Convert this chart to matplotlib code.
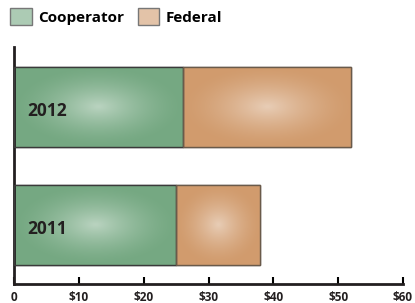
import numpy as np
import matplotlib.pyplot as plt
from matplotlib.patches import Rectangle

years = ['2011', '2012']
cooperator = [25, 26]
federal = [13, 26]
xticks = [0, 10, 20, 30, 40, 50, 60]
xticklabels = ['0', '$10', '$20', '$30', '$40', '$50', '$60']

green = np.array([0.46, 0.66, 0.51])
tan = np.array([0.82, 0.61, 0.43])

plt.rcParams['font.family'] = ['Open Sans', 'DejaVu Sans']

fig = plt.figure(figsize=(4.15, 3.03), dpi=100)
ax = fig.add_axes([0.034, 0.063, 0.937, 0.782])

ypos = np.arange(len(years))
h = 0.68


def gradient_fill(bar, base):
    # radial highlight in the middle of each bar
    x0, y0 = bar.get_x(), bar.get_y()
    w, hh = bar.get_width(), bar.get_height()
    nx, ny = 120, 60
    gx, gy = np.meshgrid(np.linspace(-1, 1, nx), np.linspace(-1, 1, ny))
    r = np.clip(np.sqrt(gx ** 2 + gy ** 2), 0, 1)
    light = (1 - r) ** 1.5 * 0.5
    img = base[None, None, :] * (1 - light[..., None]) + light[..., None]
    im = ax.imshow(img, extent=[x0, x0 + w, y0, y0 + hh], aspect='auto',
                   origin='lower', zorder=2, interpolation='bilinear')
    im.set_clip_path(bar)


bars1 = ax.barh(ypos, cooperator, height=h, color=green, edgecolor='#3a3a3a',
                linewidth=1.0, zorder=1)
bars2 = ax.barh(ypos, federal, left=cooperator, height=h, color=tan,
                edgecolor='#5a5048', linewidth=1.0, zorder=1)
for b in bars1:
    gradient_fill(b, green)
for b in bars2:
    gradient_fill(b, tan)
# redraw edges on top
for b, c in [(b, '#3a3a3a') for b in bars1] + [(b, '#6a5a4a') for b in bars2]:
    ax.add_patch(Rectangle((b.get_x(), b.get_y()), b.get_width(), b.get_height(),
                           fill=False, edgecolor=c, linewidth=1.0, zorder=3))

for y, yr in zip(ypos, years):
    ax.text(2.0, y - 0.03, yr, fontsize=12.5, fontweight='bold', color='#231f20',
            va='center', ha='left', zorder=4)

ax.set_xlim(0, 60)
ax.set_ylim(-0.5, 1.51)
ax.set_yticks([])
ax.set_xticks(xticks)
ax.set_xticklabels(xticklabels, fontsize=8.5, fontweight='bold', color='#231f20')
ax.tick_params(axis='x', direction='in', length=5, width=1.5, pad=5)
ax.spines['top'].set_visible(False)
ax.spines['right'].set_visible(False)
for s in ['left', 'bottom']:
    ax.spines[s].set_linewidth(2)
    ax.spines[s].set_color('#231f20')

# legend
handles = [Rectangle((0, 0), 1, 1, facecolor=green + (1 - green) * 0.4, edgecolor='#777777'),
           Rectangle((0, 0), 1, 1, facecolor=tan + (1 - tan) * 0.4, edgecolor='#777777')]
fig.legend(handles, ['Cooperator', 'Federal'], loc='upper left',
           bbox_to_anchor=(-0.008, 1.02), ncol=2, frameon=False,
           prop={'size': 11, 'weight': 'bold'}, handlelength=1.4, handleheight=1.4,
           columnspacing=0.9, handletextpad=0.4)

fig.savefig('out.png', dpi=100)
